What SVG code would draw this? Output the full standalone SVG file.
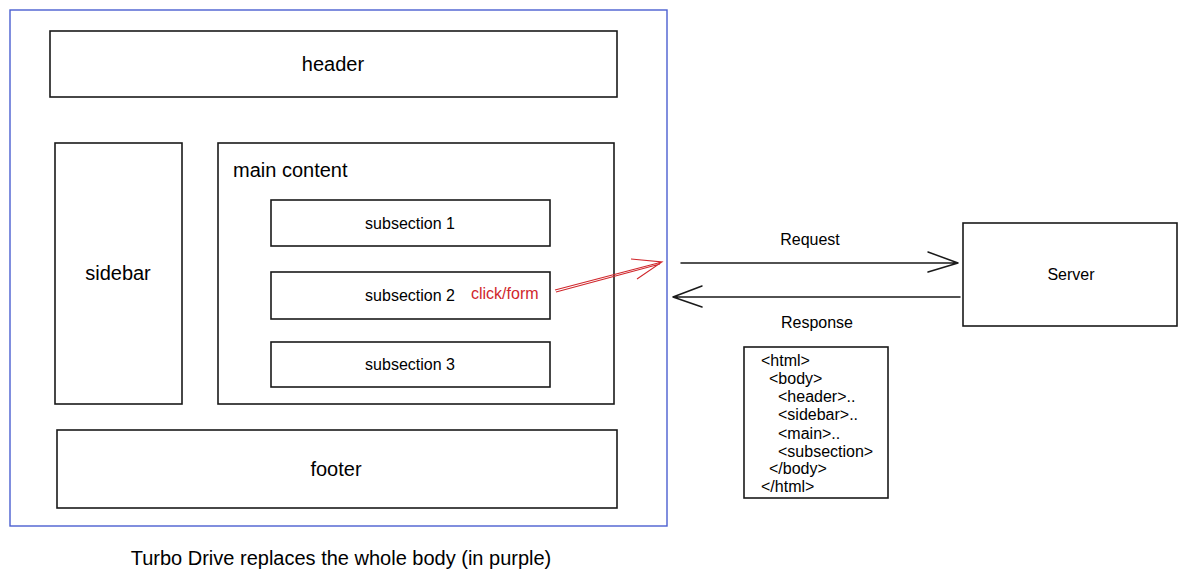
<svg xmlns="http://www.w3.org/2000/svg" width="1187" height="581" viewBox="0 0 1187 581">
<style>
.box{fill:none;stroke:#1a1a1a;stroke-width:1.6}
.t{font-family:"Liberation Sans",Arial,sans-serif;fill:#000}
.c{text-anchor:middle}
.ln{fill:none;stroke:#1a1a1a;stroke-width:1.5;stroke-linecap:round;stroke-linejoin:round}
</style>
<rect width="1187" height="581" fill="#fff"/>
<g id="body-frame"><rect x="10" y="10" width="657" height="516" fill="none" stroke="#4a5fd0" stroke-width="1.4"/></g>
<g id="header"><rect class="box" x="50" y="31" width="567" height="66"/><text class="t c" x="333" y="71" font-size="20">header</text></g>
<g id="sidebar"><rect class="box" x="55" y="143" width="127" height="261"/><text class="t c" x="118" y="280" font-size="20">sidebar</text></g>
<g id="main-content"><rect class="box" x="218" y="143" width="396" height="261"/><text class="t" x="233" y="177" font-size="20">main content</text></g>
<g id="subsection-1"><rect class="box" x="271" y="200" width="279" height="46"/><text class="t c" x="410" y="229" font-size="16">subsection 1</text></g>
<g id="subsection-2"><rect class="box" x="271" y="272" width="279" height="47"/><text class="t c" x="410" y="301" font-size="16">subsection 2</text><text class="t" x="471" y="299" font-size="16" style="fill:#d0272c">click/form</text></g>
<g id="subsection-3"><rect class="box" x="271" y="342" width="279" height="45"/><text class="t c" x="410" y="370" font-size="16">subsection 3</text></g>
<g id="footer"><rect class="box" x="57" y="430" width="560" height="78"/><text class="t c" x="336" y="476" font-size="20">footer</text></g>
<g id="server"><rect class="box" x="963" y="223" width="214" height="103"/><text class="t c" x="1071" y="280" font-size="16">Server</text></g>
<g id="html-response"><rect class="box" x="744" y="347" width="144" height="151"/>
<g class="t" font-size="16">
<text x="761" y="366">&lt;html&gt;</text>
<text x="769" y="384">&lt;body&gt;</text>
<text x="778" y="402">&lt;header&gt;..</text>
<text x="778" y="420">&lt;sidebar&gt;..</text>
<text x="778" y="439">&lt;main&gt;..</text>
<text x="778" y="457">&lt;subsection&gt;</text>
<text x="769" y="474">&lt;/body&gt;</text>
<text x="761" y="492">&lt;/html&gt;</text>
</g></g>
<g id="connectors">
<path class="ln" d="M681 263 L958 263 M928 252 L958 263 L928 272"/>
<path class="ln" d="M960 297 L673 297 M702 286 L673 297 L702 307"/>
<path fill="none" stroke="#d0272c" stroke-width="1.1" d="M555 290 L662 262 M556 292 L660 264 M631 259 L662 262 L637 279"/>
<text class="t c" x="810" y="245" font-size="16">Request</text>
<text class="t c" x="817" y="328" font-size="16">Response</text>
</g>
<text class="t c" x="341" y="565" font-size="20">Turbo Drive replaces the whole body (in purple)</text>
</svg>
